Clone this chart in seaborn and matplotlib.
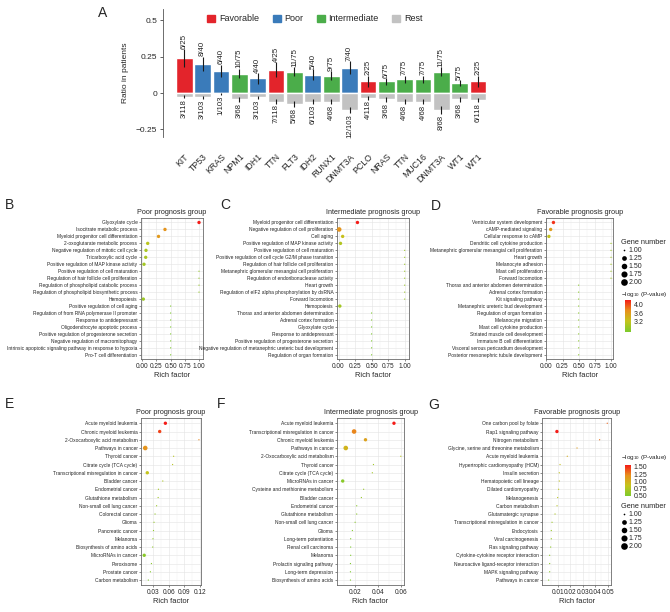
import numpy as np
import pandas as pd
import seaborn as sns
import matplotlib.pyplot as plt
import matplotlib.cm as cm
from matplotlib.colors import LinearSegmentedColormap, Normalize
from matplotlib.patches import Patch
from matplotlib.lines import Line2D
from matplotlib.ticker import AutoMinorLocator

# ---------------- panel A data ----------------
genes = ['KIT', 'TP53', 'KRAS', 'NPM1', 'IDH1', 'TTN', 'FLT3', 'IDH2', 'RUNX1', 'DNMT3A',
         'PCLO', 'NRAS', 'TTN', 'MUC16', 'DNMT3A', 'WT1', 'WT1']
groups = ['Favorable', 'Poor', 'Poor', 'Intermediate', 'Poor', 'Favorable', 'Intermediate', 'Poor',
          'Intermediate', 'Poor', 'Favorable', 'Intermediate', 'Intermediate', 'Intermediate',
          'Intermediate', 'Intermediate', 'Favorable']
grp_mut = [6, 8, 6, 10, 4, 4, 11, 5, 9, 7, 2, 6, 7, 7, 11, 5, 2]
grp_n = [25, 40, 40, 75, 40, 25, 75, 40, 75, 40, 25, 75, 75, 75, 75, 75, 25]
rest_mut = [3, 3, 1, 3, 3, 7, 5, 6, 4, 12, 4, 3, 4, 4, 8, 3, 6]
rest_n = [118, 103, 103, 68, 103, 118, 68, 103, 68, 103, 118, 68, 68, 68, 68, 68, 118]
grp_err = [0.06, 0.05, 0.042, 0.032, 0.035, 0.05, 0.03, 0.037, 0.028, 0.042,
           0.038, 0.022, 0.024, 0.024, 0.03, 0.02, 0.038]
rest_err = [0.01, 0.012, 0.007, 0.017, 0.012, 0.015, 0.022, 0.016, 0.02, 0.022,
            0.012, 0.017, 0.02, 0.02, 0.027, 0.017, 0.014]

group_colors = {'Favorable': '#e3242b', 'Poor': '#3a7bba', 'Intermediate': '#4bad4a'}
rest_color = '#c2c2c2'

# ---------------- GO terms (B, C, D) ----------------
b_terms = ['Glyoxylate cycle', 'Isocitrate metabolic process', 'Myeloid progenitor cell differentiation',
           '2-oxoglutarate metabolic process', 'Negative regulation of mitotic cell cycle',
           'Tricarboxylic acid cycle', 'Positive regulation of MAP kinase activity',
           'Positive regulation of cell maturation', 'Regulation of hair follicle cell proliferation',
           'Regulation of phospholipid catabolic process', 'Regulation of phospholipid biosynthetic process',
           'Hemopoiesis', 'Positive regulation of cell aging', 'Regulation of from RNA polymerase II promoter',
           'Response to antidepressant', 'Oligodendrocyte apoptotic process',
           'Positive regulation of progesterone secretion', 'Negative regulation of macromitophagy',
           'Intrinsic apoptotic signaling pathway in response to hypoxia', 'Pro-T cell differentiation']
b_rich = [1.0, 0.4, 0.286, 0.095, 0.065, 0.06, 0.03, 1.0, 1.0, 1.0, 1.0, 0.018,
          0.5, 0.5, 0.5, 0.5, 0.5, 0.5, 0.5, 0.5]
b_genes = [2, 2, 2, 2, 2, 2, 2, 1, 1, 1, 1, 2, 1, 1, 1, 1, 1, 1, 1, 1]
b_logp = [4.0, 3.5, 3.45, 3.0, 2.9, 2.9, 2.85, 2.75, 2.75, 2.75, 2.75, 2.8,
          2.6, 2.6, 2.6, 2.6, 2.6, 2.6, 2.6, 2.6]

c_terms = ['Myeloid progenitor cell differentiation', 'Negative regulation of cell proliferation',
           'Cell aging', 'Positive regulation of MAP kinase activity', 'Positive regulation of cell maturation',
           'Positive regulation of cell cycle G2/M phase transition',
           'Regulation of hair follicle cell proliferation',
           'Metanephric glomerular mesangial cell proliferation', 'Regulation of endoribonuclease activity',
           'Heart growth', 'Regulation of eIF2 alpha phosphorylation by dsRNA', 'Forward locomotion',
           'Hemopoiesis', 'Thorax and anterior abdomen determination', 'Adrenal cortex formation',
           'Glyoxylate cycle', 'Response to antidepressant', 'Positive regulation of progesterone secretion',
           'Negative regulation of metanephric ureteric bud development', 'Regulation of organ formation']
c_rich = [0.286, 0.01, 0.0625, 0.03, 1.0, 1.0, 1.0, 1.0, 1.0, 1.0, 1.0, 1.0, 0.02,
          0.5, 0.5, 0.5, 0.5, 0.5, 0.5, 0.5]
c_genes = [2, 3, 2, 2, 1, 1, 1, 1, 1, 1, 1, 1, 2, 1, 1, 1, 1, 1, 1, 1]
c_logp = [4.0, 3.5, 3.1, 2.95, 2.8, 2.8, 2.8, 2.8, 2.8, 2.8, 2.8, 2.8, 2.85,
          2.6, 2.6, 2.6, 2.6, 2.6, 2.6, 2.6]

d_terms = ['Ventricular system development', 'cAMP-mediated signaling', 'Cellular response to cAMP',
           'Dendritic cell cytokine production', 'Metanephric glomerular mesangial cell proliferation',
           'Heart growth', 'Melanocyte adhesion', 'Mast cell proliferation', 'Forward locomotion',
           'Thorax and anterior abdomen determination', 'Adrenal cortex formation', 'Kit signaling pathway',
           'Metanephric ureteric bud development', 'Regulation of organ formation', 'Melanocyte migration',
           'Mast cell cytokine production', 'Striated muscle cell development',
           'Immature B cell differentiation', 'Visceral serous pericardium development',
           'Posterior mesonephric tubule development']
d_rich = [0.11, 0.067, 0.04, 1.0, 1.0, 1.0, 1.0, 1.0, 1.0,
          0.5, 0.5, 0.5, 0.5, 0.5, 0.5, 0.5, 0.5, 0.5, 0.5, 0.5]
d_genes = [2, 2, 2, 1, 1, 1, 1, 1, 1, 1, 1, 1, 1, 1, 1, 1, 1, 1, 1, 1]
d_logp = [4.1, 3.6, 3.25, 3.0, 3.0, 3.0, 3.0, 3.0, 3.0,
          2.85, 2.85, 2.85, 2.85, 2.85, 2.85, 2.85, 2.85, 2.85, 2.85, 2.85]

# ---------------- KEGG pathways (E, F, G) ----------------
e_terms = ['Acute myeloid leukemia', 'Chronic myeloid leukemia', '2-Oxocarboxylic acid metabolism',
           'Pathways in cancer', 'Thyroid cancer', 'Citrate cycle (TCA cycle)',
           'Transcriptional misregulation in cancer', 'Bladder cancer', 'Endometrial cancer',
           'Glutathione metabolism', 'Non-small cell lung cancer', 'Colorectal cancer', 'Glioma',
           'Pancreatic cancer', 'Melanoma', 'Biosynthesis of amino acids', 'MicroRNAs in cancer',
           'Peroxisome', 'Prostate cancer', 'Carbon metabolism']
e_rich = [0.053, 0.042, 0.118, 0.014, 0.069, 0.067, 0.018, 0.048, 0.0396, 0.039, 0.036,
          0.033, 0.031, 0.030, 0.029, 0.0285, 0.012, 0.026, 0.024, 0.020]
e_genes = [2, 2, 1, 3, 1, 1, 2, 1, 1, 1, 1, 1, 1, 1, 1, 1, 2, 1, 1, 1]
e_logp = [3.0, 2.8, 2.45, 2.35, 1.7, 1.7, 1.8, 1.6, 1.5, 1.5, 1.45, 1.4, 1.4, 1.35, 1.35,
          1.35, 1.3, 1.3, 1.25, 1.2]

f_terms = ['Acute myeloid leukemia', 'Transcriptional misregulation in cancer', 'Chronic myeloid leukemia',
           'Pathways in cancer', '2-Oxocarboxylic acid metabolism', 'Thyroid cancer',
           'Citrate cycle (TCA cycle)', 'MicroRNAs in cancer', 'Cysteine and methionine metabolism',
           'Bladder cancer', 'Endometrial cancer', 'Glutathione metabolism', 'Non-small cell lung cancer',
           'Glioma', 'Long-term potentiation', 'Renal cell carcinoma', 'Melanoma',
           'Prolactin signaling pathway', 'Long-term depression', 'Biosynthesis of amino acids']
f_rich = [0.054, 0.019, 0.029, 0.0117, 0.060, 0.036, 0.035, 0.009, 0.0274, 0.0254, 0.0213,
          0.0213, 0.0199, 0.0175, 0.016, 0.016, 0.016, 0.0158, 0.0158, 0.0158]
f_genes = [2, 3, 2, 3, 1, 1, 1, 2, 1, 1, 1, 1, 1, 1, 1, 1, 1, 1, 1, 1]
f_logp = [3.0, 2.45, 2.2, 2.0, 1.7, 1.5, 1.5, 1.3, 1.4, 1.4, 1.3, 1.3, 1.3, 1.25, 1.2, 1.2,
          1.2, 1.2, 1.2, 1.2]

g_terms = ['One carbon pool by folate', 'Rap1 signaling pathway', 'Nitrogen metabolism',
           'Glycine, serine and threonine metabolism', 'Acute myeloid leukemia',
           'Hypertrophic cardiomyopathy (HCM)', 'Insulin secretion', 'Hematopoietic cell lineage',
           'Dilated cardiomyopathy', 'Melanogenesis', 'Carbon metabolism', 'Glutamatergic synapse',
           'Transcriptional misregulation in cancer', 'Endocytosis', 'Viral carcinogenesis',
           'Ras signaling pathway', 'Cytokine-cytokine receptor interaction',
           'Neuroactive ligand-receptor interaction', 'MAPK signaling pathway', 'Pathways in cancer']
g_rich = [0.0497, 0.0094, 0.0436, 0.0255, 0.0177, 0.0119, 0.0113, 0.0113, 0.0108, 0.0100,
          0.0095, 0.0079, 0.0055, 0.0049, 0.0049, 0.0044, 0.0036, 0.0036, 0.0036, 0.0028]
g_genes = [1, 2, 1, 1, 1, 1, 1, 1, 1, 1, 1, 1, 1, 1, 1, 1, 1, 1, 1, 1]
g_logp = [1.35, 1.57, 1.3, 1.12, 1.0, 0.86, 0.83, 0.83, 0.8, 0.78, 0.77, 0.72, 0.63, 0.6, 0.6,
          0.57, 0.55, 0.55, 0.54, 0.5]

size_levels = [1.00, 1.25, 1.50, 1.75, 2.00]

# ---------------- style ----------------
sns.set_theme(style='white')
plt.rcParams['font.family'] = ['Liberation Sans', 'DejaVu Sans']
plt.rcParams['mathtext.default'] = 'regular'
plt.rcParams['axes.unicode_minus'] = True

cmap = LinearSegmentedColormap.from_list('gr', ['#7dca2c', '#c4c41c', '#e8901c', '#f41c18'])

W, H = 670, 612


def box(l, t, r, b):
    return [l / W, 1 - b / H, (r - l) / W, (b - t) / H]


fig = plt.figure(figsize=(W / 100, H / 100), dpi=100)

# ---------------- panel A ----------------
axA = fig.add_axes(box(163.3, 9.3, 490, 136.7))
df_a = pd.DataFrame({'pos': np.arange(len(genes)), 'group': groups,
                     'ratio': np.array(grp_mut) / np.array(grp_n),
                     'rest': -np.array(rest_mut) / np.array(rest_n)})
sns.barplot(data=df_a, x='pos', y='ratio', hue='group', palette=group_colors, dodge=False,
            width=0.91, errorbar=None, legend=False, saturation=1, ax=axA)
sns.barplot(data=df_a, x='pos', y='rest', color=rest_color, width=0.91, errorbar=None,
            saturation=1, ax=axA)
axA.errorbar(df_a['pos'], df_a['ratio'], yerr=grp_err, fmt='none', ecolor='#1a1a1a', elinewidth=0.8)
axA.errorbar(df_a['pos'], df_a['rest'], yerr=rest_err, fmt='none', ecolor='#1a1a1a', elinewidth=0.8)
for i in range(len(genes)):
    axA.text(i, df_a['ratio'][i] + grp_err[i] + 0.004, f'{grp_mut[i]}/{grp_n[i]}', rotation=90,
             ha='center', va='bottom', fontsize=5.6, color='#222222')
    axA.text(i, df_a['rest'][i] - rest_err[i] - 0.004, f'{rest_mut[i]}/{rest_n[i]}', rotation=90,
             ha='center', va='top', fontsize=5.6, color='#222222')

axA.set_xlim(-1.14, 16.65)
axA.set_ylim(-0.30, 0.575)
axA.set_yticks([-0.25, 0, 0.25, 0.5])
axA.set_yticklabels(['\u22120.25', '0', '0.25', '0.5'], fontsize=6)
axA.set_xticks(range(len(genes)))
axA.set_xticklabels(genes, rotation=45, ha='right', rotation_mode='anchor', fontsize=6.3)
axA.tick_params(axis='x', length=0, pad=11)
axA.tick_params(axis='y', length=2.5, width=0.6, color='#444444', pad=2, left=True)
axA.set_xlabel('')
axA.set_ylabel('Ratio in patients', fontsize=6, labelpad=5)
for s in ['top', 'right', 'bottom']:
    axA.spines[s].set_visible(False)
axA.spines['left'].set_color('#555555')
axA.spines['left'].set_linewidth(0.6)
handles = [Patch(color=group_colors['Favorable']), Patch(color=group_colors['Poor']),
           Patch(color=group_colors['Intermediate']), Patch(color=rest_color)]
axA.legend(handles, ['Favorable', 'Poor', 'Intermediate', 'Rest'], loc='center',
           bbox_to_anchor=(0.464, 0.924), ncol=4, frameon=False, fontsize=6.5,
           handlelength=0.9, handleheight=0.9, columnspacing=1.5, handletextpad=0.4)
fig.text(103 / W, 1 - 13 / H, 'A', fontsize=10, ha='center', va='center')


# ---------------- dot panels ----------------
def dot_panel(rect, terms, rich, gene_n, logp, norm, xlim, xticks, xticklabels, title):
    ax = fig.add_axes(box(*rect))
    n = len(terms)
    df = pd.DataFrame({'term': terms, 'rich': rich, 'genes': gene_n, 'logp': logp, 'row': np.arange(n)})
    sns.scatterplot(data=df, x='rich', y='row', hue='logp', hue_norm=norm, palette=cmap,
                    size='genes', size_norm=(1, 3), sizes=(0.8, 11), linewidth=0,
                    legend=False, ax=ax, zorder=3)
    ax.set_ylim(n - 0.4, -0.6)
    ax.set_yticks(range(n))
    ax.set_yticklabels(terms, fontsize=3.5)
    ax.set_xlim(xlim)
    ax.set_xticks(xticks)
    ax.set_xticklabels(xticklabels, fontsize=4.7)
    ax.xaxis.set_minor_locator(AutoMinorLocator(2))
    ax.grid(True, which='major', color='#e4e4e4', linewidth=0.4)
    ax.grid(True, which='minor', axis='x', color='#efefef', linewidth=0.3)
    ax.set_axisbelow(True)
    ax.set_xlabel('Rich factor', fontsize=5.4, labelpad=2)
    ax.set_ylabel('')
    ax.set_title(title, fontsize=5.2, pad=3)
    ax.tick_params(axis='both', which='major', length=1.6, width=0.4, color='#333333', pad=1,
                   left=True, bottom=True)
    ax.tick_params(axis='x', which='minor', length=0)
    for s in ax.spines.values():
        s.set_color('#6a6a6a')
        s.set_linewidth(0.6)
    return ax


def color_legend(title_y, rect, norm, ticks, ticklabels):
    fig.text(621 / W, 1 - title_y / H, '\u2212log$_{10}$ (P-value)', fontsize=4.6, ha='left', va='center')
    cax = fig.add_axes(box(*rect))
    cb = fig.colorbar(cm.ScalarMappable(norm=Normalize(*norm), cmap=cmap), cax=cax)
    cb.outline.set_visible(False)
    cb.set_ticks(ticks)
    cb.set_ticklabels(ticklabels)
    cax.tick_params(labelsize=5, length=1.5, width=0.5, color='white', direction='in', pad=2)


def size_legend(ax, top_y):
    ms = [1.2, 3.4, 4.0, 4.4, 4.8]
    hs = [Line2D([], [], marker='o', ls='', color='black', markersize=m, markeredgewidth=0) for m in ms]
    ax.legend(hs, [f'{v:.2f}' for v in size_levels], title='Gene number', loc='upper left',
              bbox_to_anchor=(621 / W, 1 - top_y / H), bbox_transform=fig.transFigure,
              frameon=False, fontsize=5, title_fontsize=5.3, labelspacing=0.15,
              handletextpad=0.3, handlelength=0.8, handleheight=0.6, borderpad=0,
              borderaxespad=0, alignment='left')


tick01 = [0, 0.25, 0.5, 0.75, 1.0]
tick01_lab = ['0.00', '0.25', '0.50', '0.75', '1.00']

dot_panel((141, 218.3, 202.7, 359), b_terms, b_rich, b_genes, b_logp, (2.6, 4.0),
          (-0.023, 1.065), tick01, tick01_lab, 'Poor prognosis group')
dot_panel((337, 218.3, 409, 359), c_terms, c_rich, c_genes, c_logp, (2.6, 4.0),
          (-0.023, 1.065), tick01, tick01_lab, 'Intermediate prognosis group')
axD = dot_panel((546, 218.3, 613.3, 359), d_terms, d_rich, d_genes, d_logp, (2.76, 4.19),
                (-0.005, 1.035), tick01, tick01_lab, 'Favorable prognosis group')
size_legend(axD, 239)
color_legend(294, (625, 300, 631, 331.7), (2.76, 4.19), [3.2, 3.6, 4.0], ['3.2', '3.6', '4.0'])

dot_panel((141, 418.3, 201, 585), e_terms, e_rich, e_genes, e_logp, (1.2, 3.0),
          (0.0058, 0.122), [0.03, 0.06, 0.09, 0.12], ['0.03', '0.06', '0.09', '0.12'],
          'Poor prognosis group')
dot_panel((337, 418.3, 404, 585), f_terms, f_rich, f_genes, f_logp, (1.2, 3.0),
          (0.004, 0.0628), [0.02, 0.04, 0.06], ['0.02', '0.04', '0.06'],
          'Intermediate prognosis group')
axG = dot_panel((542.3, 418.3, 611, 585), g_terms, g_rich, g_genes, g_logp, (0.47, 1.57),
                (-0.0023, 0.0527), [0.01, 0.02, 0.03, 0.04, 0.05],
                ['0.01', '0.02', '0.03', '0.04', '0.05'], 'Favorable prognosis group')
color_legend(458, (625, 465, 631, 496), (0.47, 1.57), [0.5, 0.75, 1.0, 1.25, 1.5],
             ['0.50', '0.75', '1.00', '1.25', '1.50'])
size_legend(axG, 503)

for letter, x, y in [('B', 9, 205), ('C', 225, 205), ('D', 436, 206),
                     ('E', 9, 404), ('F', 221, 404), ('G', 434, 405)]:
    fig.text(x / W, 1 - y / H, letter, fontsize=10, ha='center', va='center')

fig.savefig('out.png', dpi=100)
